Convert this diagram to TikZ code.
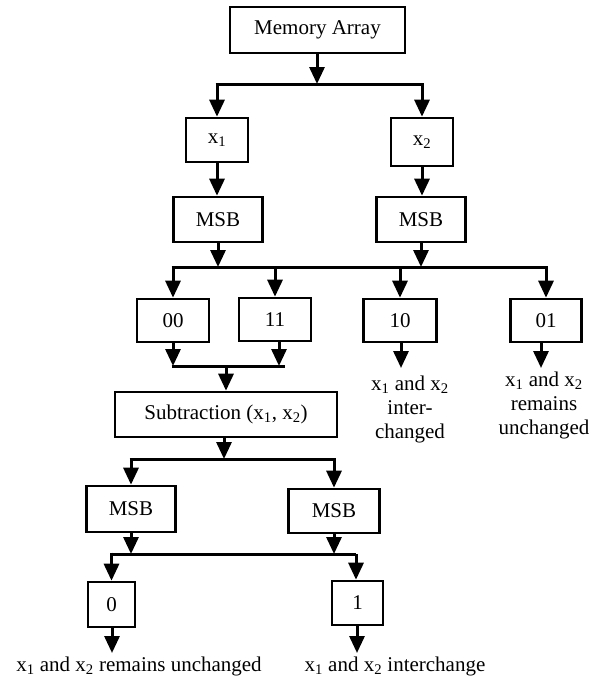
\documentclass[tikz,border=0pt]{standalone}
\usepackage{fontspec}
\setmainfont{Liberation Serif}
\usetikzlibrary{arrows.meta,calc}
\begin{document}
\begin{tikzpicture}[x=1pt,y=-1pt,
  every node/.style={font=\fontsize{21}{24}\selectfont},
  box/.style={draw,line width=2.6pt,inner sep=0pt,minimum width=#1},
  box/.default=60pt,
  arr/.style={line width=3pt,-{Triangle[width=15pt,length=17pt]}},
  bus/.style={line width=3pt},
  lbl/.style={align=center,inner sep=0pt}]
\useasboundingbox (0,0) rectangle (614,680);
% nodes
\node[box=175pt,minimum height=46pt] (mem) at (317.5,30) {Memory Array};
\node[box=62pt,minimum height=44pt] (x1) at (217,140) {x\textsubscript{1}};
\node[box=62pt,minimum height=48pt] (x2) at (422,142) {x\textsubscript{2}};
\node[box=89pt,minimum height=45pt] (msbL) at (218,219.5) {MSB};
\node[box=89pt,minimum height=45pt] (msbR) at (421,219.5) {MSB};
\node[box=72pt,minimum height=43pt] (b00) at (173,320.5) {00};
\node[box=72pt,minimum height=43pt] (b11) at (275,319.5) {11};
\node[box=73pt,minimum height=43pt] (b10) at (400,320.5) {10};
\node[box=71pt,minimum height=43pt] (b01) at (546,320.5) {01};
\node[box=222pt,minimum height=45pt] (sub) at (226,414.5) {Subtraction (x\textsubscript{1}, x\textsubscript{2})};
\node[box=89pt,minimum height=46pt] (m2L) at (131,509) {MSB};
\node[box=91pt,minimum height=44pt] (m2R) at (334,511) {MSB};
\node[box=47pt,minimum height=45pt] (z0) at (111.5,604.5) {0};
\node[box=51pt,minimum height=44pt] (o1) at (357.5,603) {1};
\node[lbl] (t10) at (410,409) {x\textsubscript{1} and x\textsubscript{2}\\inter-\\changed};
\node[lbl] (t01) at (544,405) {x\textsubscript{1} and x\textsubscript{2}\\remains\\unchanged};
\node[lbl] (tb0) at (139,666) {x\textsubscript{1} and x\textsubscript{2} remains unchanged};
\node[lbl] (tb1) at (395,666) {x\textsubscript{1} and x\textsubscript{2} interchange};
% junction coordinates
\coordinate (j1) at (317,84);
\coordinate (j2) at (320,267);
\coordinate (j3) at (226,366);
\coordinate (j4) at (224,459);
\coordinate (j5) at (230,554);
\coordinate (e10) at (401,368);
\coordinate (e01) at (541,368);
\coordinate (e0) at (112,653);
\coordinate (e1) at (357,653);
% level 1
\draw[arr] (mem.south -| j1) -- (j1);
\draw[bus] ($(x1.north |- j1)+(-1.5,0)$) -- ($(x2.north |- j1)+(1.5,0)$);
\draw[arr] (x1.north |- j1) -- (x1.north);
\draw[arr] (x2.north |- j1) -- (x2.north);
\draw[arr] (x1.south) -- (x1.south |- msbL.north);
\draw[arr] (x2.south) -- (x2.south |- msbR.north);
% level 2
\draw[arr] (msbL.south) -- (msbL.south |- j2);
\draw[arr] (msbR.south) -- (msbR.south |- j2);
\draw[bus] ($(b00.north |- j2)+(-1.5,0)$) -- ($(b01.north |- j2)+(1.5,0)$);
\draw[arr] (b00.north |- j2) -- (b00.north);
\draw[arr] (b11.north |- j2) -- (b11.north);
\draw[arr] (b10.north |- j2) -- (b10.north);
\draw[arr] (b01.north |- j2) -- (b01.north);
\draw[arr] (b10.south -| e10) -- (e10);
\draw[arr] (b01.south -| e01) -- (e01);
% join 00 / 11
\draw[arr] (b00.south) -- (b00.south |- j3);
\draw[arr] ($(b11.south)+(4,0)$) -- ($(b11.south |- j3)+(4,0)$);
\draw[bus] ($(b00.south |- j3)+(-1.5,0)$) -- ($(b11.south |- j3)+(10,0)$);
\draw[arr] (j3) -- (j3 |- sub.north);
% subtraction
\draw[arr] (sub.south -| j4) -- (j4);
\draw[bus] ($(m2L.north |- j4)+(-1.5,0)$) -- ($(m2R.north |- j4)+(1.5,0)$);
\draw[arr] (m2L.north |- j4) -- (m2L.north);
\draw[arr] (m2R.north |- j4) -- (m2R.north);
\draw[arr] (m2L.south) -- (m2L.south |- j5);
\draw[arr] (m2R.south) -- (m2R.south |- j5);
\draw[bus] ($(z0.north |- j5)+(-1.5,0)$) -- ($(o1.north |- j5)+(-2,0)$);
\draw[arr] ($(z0.north |- j5)+(0,-1.5)$) -- (z0.north);
\draw[arr] ($(o1.north |- j5)+(-1.5,0)$) -- ($(o1.north)+(-1.5,0)$);
\draw[arr] (z0.south -| e0) -- (e0);
\draw[arr] (o1.south -| e1) -- (e1);
\end{tikzpicture}
\end{document}
